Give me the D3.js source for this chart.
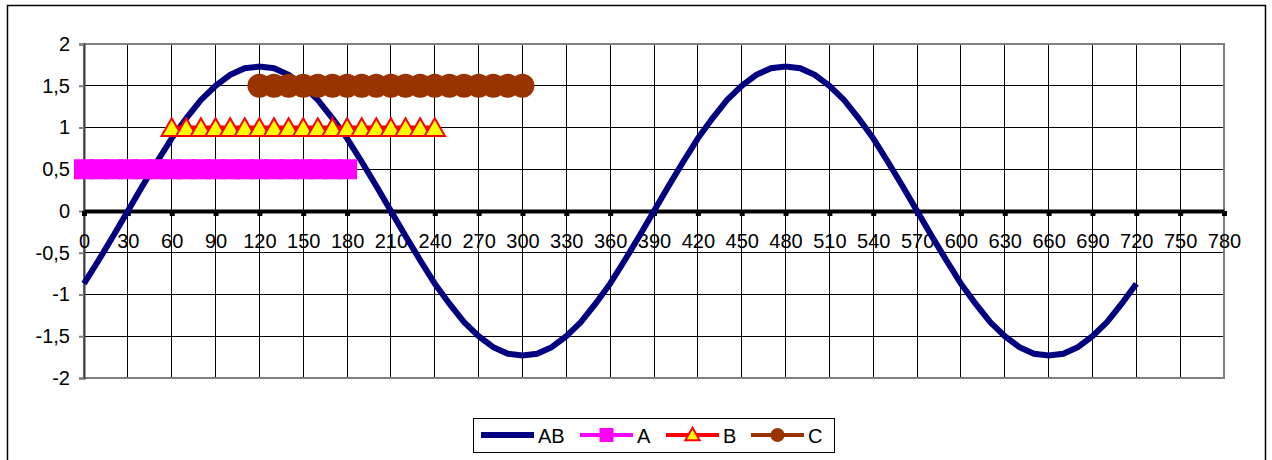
<!DOCTYPE html>
<html>
<head>
<meta charset="utf-8">
<script src="https://cdn.jsdelivr.net/npm/d3@7"></script>
<style>
  body { margin: 0; background: #fff; }
  svg { display: block; font-family: Arial, "Liberation Sans", sans-serif; }
</style>
</head>
<body>
<div class="chart"></div>
<script>
const width = 1272, height = 460

// AB: x every 10 degrees, 0..720
const abX = d3.range(0, 721, 10)
const abY = [
    -0.87, -0.59, -0.30, 0, 0.30, 0.59, 0.87, 1.11, 1.33, 1.50, 1.63, 1.71,
    1.73, 1.71, 1.63, 1.50, 1.33, 1.11, 0.87, 0.59, 0.30, 0, -0.30, -0.59,
    -0.87, -1.11, -1.33, -1.50, -1.63, -1.71, -1.73, -1.71, -1.63, -1.50, -1.33, -1.11,
    -0.87, -0.59, -0.30, 0, 0.30, 0.59, 0.87, 1.11, 1.33, 1.50, 1.63, 1.71,
    1.73, 1.71, 1.63, 1.50, 1.33, 1.11, 0.87, 0.59, 0.30, 0, -0.30, -0.59,
    -0.87, -1.11, -1.33, -1.50, -1.63, -1.71, -1.73, -1.71, -1.63, -1.50, -1.33, -1.11,
    -0.87
]
const aX = d3.range(0, 181, 10)
const aY = aX.map(() => 0.5)
const bX = d3.range(60, 241, 10)
const bY = bX.map(() => 1)
const cX = d3.range(120, 301, 10)
const cY = cX.map(() => 1.5)

const xTicks = d3.range(0, 781, 30)
const yTicks = [-2, -1.5, -1, -0.5, 0, 0.5, 1, 1.5, 2]

const seriesNames = ['AB', 'A', 'B', 'C']

const svg = d3.select('.chart').append('svg')
    .attr('width', width)
    .attr('height', height)

// outer chart border
svg.append('rect')
    .attr('x', 7.5).attr('y', 5.5)
    .attr('width', 1258).attr('height', 470)
    .attr('fill', '#fff')
    .attr('stroke', '#000')
    .attr('stroke-width', 1.5)

const x = d3.scaleLinear().domain([0, 780]).range([84, 1224])
const y = d3.scaleLinear().domain([-2, 2]).range([378, 44])

const fmt = d => String(d).replace('.', ',')
const fontSize = 20

// grid
svg.append('g').selectAll('line')
    .data(xTicks.slice(1, -1))
    .enter().append('line')
    .attr('x1', d => x(d)).attr('x2', d => x(d))
    .attr('y1', y(2)).attr('y2', y(-2))
    .attr('stroke', '#000').attr('stroke-width', 1)
    .attr('shape-rendering', 'crispEdges')

svg.append('g').selectAll('line')
    .data(yTicks.slice(1, -1))
    .enter().append('line')
    .attr('x1', x(0)).attr('x2', x(780))
    .attr('y1', d => y(d)).attr('y2', d => y(d))
    .attr('stroke', '#000').attr('stroke-width', 1)
    .attr('shape-rendering', 'crispEdges')

// plot border
svg.append('rect')
    .attr('x', x(0)).attr('y', y(2))
    .attr('width', x(780) - x(0)).attr('height', y(-2) - y(2))
    .attr('fill', 'none')
    .attr('stroke', '#808080').attr('stroke-width', 2)

// y axis
const yAxis = svg.append('g')
    .attr('transform', `translate(${x(0)},0)`)
    .call(d3.axisLeft(y).tickValues(yTicks).tickSize(5).tickPadding(9).tickFormat(fmt))
yAxis.select('.domain').attr('stroke', '#404040').attr('stroke-width', 2)
yAxis.selectAll('.tick line').attr('stroke', '#808080').attr('stroke-width', 2)
yAxis.selectAll('.tick text')
    .attr('font-size', fontSize).attr('fill', '#000')
    .attr('font-family', 'Arial, "Liberation Sans", sans-serif')

// x axis on zero line
const xAxis = svg.append('g')
    .attr('transform', `translate(0,${y(0)})`)
    .call(d3.axisBottom(x).tickValues(xTicks).tickSize(0).tickPadding(23).tickFormat(d => d))
xAxis.select('.domain').attr('stroke', '#000').attr('stroke-width', 4)
xAxis.selectAll('.tick text')
    .attr('font-size', fontSize).attr('fill', '#000')
    .attr('font-family', 'Arial, "Liberation Sans", sans-serif')
xAxis.selectAll('.tick').append('rect')
    .attr('x', -2.5).attr('y', 0).attr('width', 5).attr('height', 5)
    .attr('fill', '#000')

const line = d3.line().x(d => x(d[0])).y(d => y(d[1]))

// AB curve
svg.append('path')
    .datum(d3.zip(abX, abY))
    .attr('d', line)
    .attr('fill', 'none')
    .attr('stroke', '#000080')
    .attr('stroke-width', 6)

// A squares
const aData = d3.zip(aX, aY)
svg.append('path').datum(aData).attr('d', line)
    .attr('fill', 'none').attr('stroke', '#ff00ff').attr('stroke-width', 4)
svg.append('g').selectAll('rect').data(aData).enter().append('rect')
    .attr('x', d => x(d[0]) - 10).attr('y', d => y(d[1]) - 10)
    .attr('width', 20).attr('height', 20)
    .attr('fill', '#ff00ff')

// B triangles
const bData = d3.zip(bX, bY)
const tri = d3.symbol().type(d3.symbolTriangle).size(180)
svg.append('path').datum(bData).attr('d', line)
    .attr('fill', 'none').attr('stroke', '#ff0000').attr('stroke-width', 4)
svg.append('g').selectAll('path').data(bData).enter().append('path')
    .attr('d', tri)
    .attr('transform', d => `translate(${x(d[0])},${y(d[1]) + 2.5})`)
    .attr('fill', '#ffff00')
    .attr('stroke', '#ff0000')
    .attr('stroke-width', 2)

// C circles
const cData = d3.zip(cX, cY)
svg.append('path').datum(cData).attr('d', line)
    .attr('fill', 'none').attr('stroke', '#993300').attr('stroke-width', 4)
svg.append('g').selectAll('circle').data(cData).enter().append('circle')
    .attr('cx', d => x(d[0])).attr('cy', d => y(d[1]))
    .attr('r', 12)
    .attr('fill', '#993300')

// legend
const legend = svg.append('g')
legend.append('rect')
    .attr('x', 473.5).attr('y', 418.5)
    .attr('width', 361).attr('height', 34)
    .attr('fill', '#fff').attr('stroke', '#000').attr('stroke-width', 1)

const legendX = [481, 580, 666, 751]
const legendColor = ['#000080', '#ff00ff', '#ff0000', '#993300']
const legendY = 435
seriesNames.forEach((name, i) => {
    const lx = legendX[i]
    legend.append('line')
        .attr('x1', lx).attr('x2', lx + 53)
        .attr('y1', legendY).attr('y2', legendY)
        .attr('stroke', legendColor[i])
        .attr('stroke-width', i === 0 ? 6 : 4)
    const mx = lx + 26.5
    if (i === 1) {
        legend.append('rect').attr('x', mx - 7).attr('y', legendY - 7)
            .attr('width', 14).attr('height', 14).attr('fill', '#ff00ff')
    } else if (i === 2) {
        legend.append('path').attr('d', d3.symbol().type(d3.symbolTriangle).size(90))
            .attr('transform', `translate(${mx},${legendY + 1})`)
            .attr('fill', '#ffff00').attr('stroke', '#ff0000').attr('stroke-width', 2)
    } else if (i === 3) {
        legend.append('circle').attr('cx', mx).attr('cy', legendY).attr('r', 7)
            .attr('fill', '#993300')
    }
    legend.append('text')
        .attr('x', lx + 57).attr('y', legendY + 7.5)
        .attr('font-size', fontSize)
        .text(name)
})
</script>
</body>
</html>
